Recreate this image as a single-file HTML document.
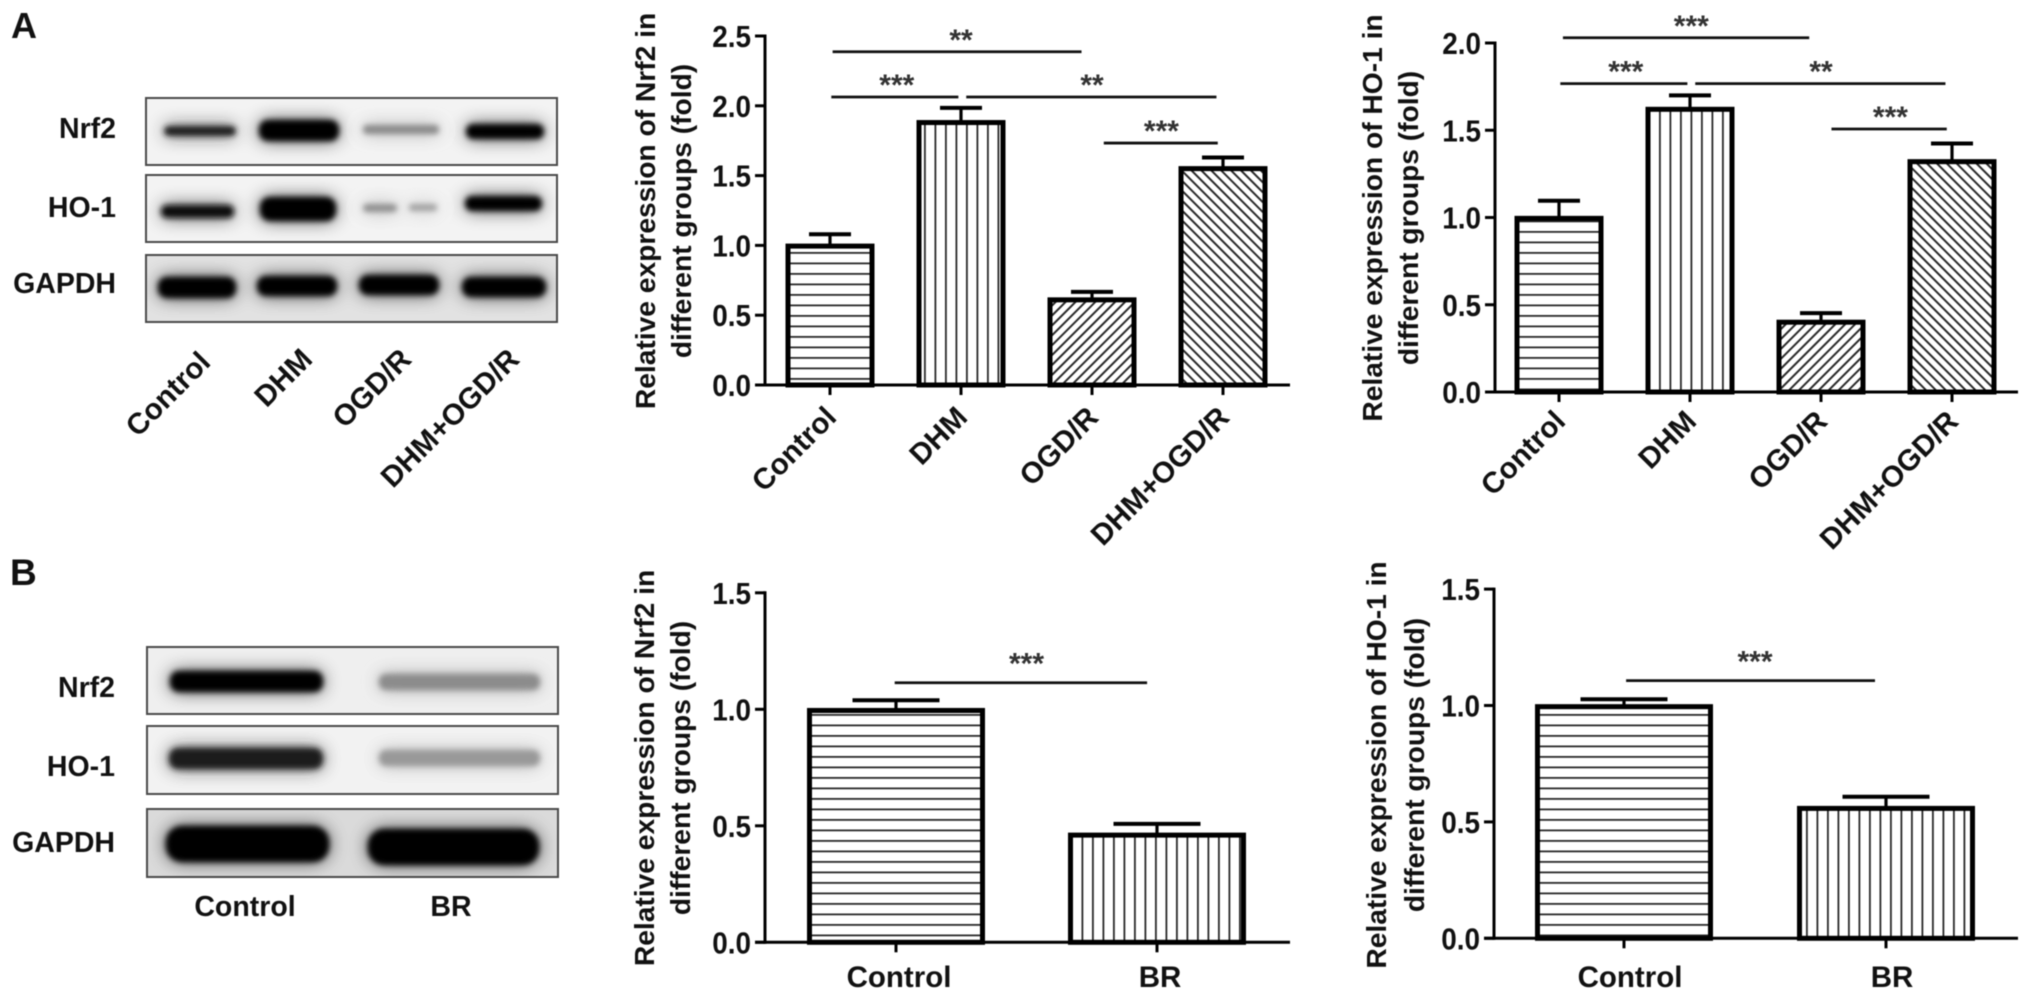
<!DOCTYPE html>
<html lang="en">
<head>
<meta charset="utf-8">
<title>Relative expression of Nrf2 and HO-1</title>
<style>
html,body{margin:0;padding:0;background:#fff;width:2031px;height:1000px;overflow:hidden}
svg{display:block;font-family:"Liberation Sans",Arial,sans-serif;filter:blur(.6px)}
.b{font-weight:bold;fill:#111}
</style>
</head>
<body>
<svg id="figure" xmlns="http://www.w3.org/2000/svg" width="2031" height="1000" viewBox="0 0 2031 1000">
<defs>
<filter id="band" x="-30%" y="-300%" width="160%" height="700%">
<feGaussianBlur in="SourceGraphic" stdDeviation="3" result="core"/>
<feGaussianBlur in="SourceGraphic" stdDeviation="9" result="wide"/>
<feComponentTransfer in="wide" result="halo"><feFuncA type="linear" slope="0.7"/></feComponentTransfer>
<feMerge><feMergeNode in="halo"/><feMergeNode in="core"/></feMerge>
</filter>
<clipPath id="a1"><rect x="146" y="98" width="411" height="67"/></clipPath>
<clipPath id="a2"><rect x="146" y="175" width="411" height="67"/></clipPath>
<clipPath id="a3"><rect x="146" y="255" width="411" height="67"/></clipPath>
<clipPath id="b1"><rect x="147" y="647" width="411" height="67"/></clipPath>
<clipPath id="b2"><rect x="147" y="726" width="411" height="68"/></clipPath>
<clipPath id="b3"><rect x="147" y="809" width="411" height="68"/></clipPath>
<pattern id="hatch-h" patternUnits="userSpaceOnUse" width="10.5" height="10.5"><rect x="0" y="0" width="10.5" height="1.8" fill="#2a2a2a"/></pattern>
<pattern id="hatch-v" patternUnits="userSpaceOnUse" width="10.5" height="10.5"><rect x="0" y="0" width="1.8" height="10.5" fill="#2a2a2a"/></pattern>
<pattern id="hatch-f" patternUnits="userSpaceOnUse" width="7" height="7" patternTransform="rotate(45)"><rect x="0" y="0" width="2" height="7" fill="#2a2a2a"/></pattern>
<pattern id="hatch-b" patternUnits="userSpaceOnUse" width="7" height="7" patternTransform="rotate(-45)"><rect x="0" y="0" width="2" height="7" fill="#2a2a2a"/></pattern>
</defs>

<text class="b" x="11" y="38" font-size="36">A</text>
<text class="b" x="10" y="585" font-size="37">B</text>

<g>
  <g>
    <rect x="146" y="98" width="411" height="67" fill="#f3f3f3"/>
    <g clip-path="url(#a1)" filter="url(#band)">
      <rect x="164" y="126" width="72" height="10" rx="5" fill="#1c1c1c"/>
      <rect x="259" y="120" width="80" height="21" rx="9" fill="#000"/>
      <rect x="363" y="125" width="76" height="9" rx="4" fill="#8a8a8a"/>
      <rect x="466" y="124" width="78" height="15" rx="7" fill="#000"/>
    </g>
    <rect x="146" y="98" width="411" height="67" fill="none" stroke="#4a4a4a" stroke-width="2"/>
  </g>
  <g>
    <rect x="146" y="175" width="411" height="67" fill="#f3f3f3"/>
    <g clip-path="url(#a2)" filter="url(#band)">
      <rect x="161" y="205" width="73" height="13" rx="6" fill="#0c0c0c"/>
      <rect x="260" y="197" width="76" height="24" rx="10" fill="#000"/>
      <rect x="363" y="204" width="34" height="8" rx="4" fill="#8f8f8f"/>
      <rect x="409" y="204" width="28" height="7" rx="3" fill="#a0a0a0"/>
      <rect x="465" y="196" width="77" height="15" rx="7" fill="#000"/>
    </g>
    <rect x="146" y="175" width="411" height="67" fill="none" stroke="#4a4a4a" stroke-width="2"/>
  </g>
  <g>
    <rect x="146" y="255" width="411" height="67" fill="#e2e2e2"/>
    <g clip-path="url(#a3)" filter="url(#band)">
      <rect x="158" y="277" width="78" height="21" rx="9" fill="#000"/>
      <rect x="257" y="276" width="80" height="20" rx="9" fill="#000"/>
      <rect x="359" y="275" width="80" height="20" rx="9" fill="#000"/>
      <rect x="462" y="277" width="84" height="20" rx="9" fill="#000"/>
    </g>
    <rect x="146" y="255" width="411" height="67" fill="none" stroke="#4a4a4a" stroke-width="2"/>
  </g>
  <text class="b" x="116" y="138" font-size="28.5" text-anchor="end">Nrf2</text>
  <text class="b" x="116" y="217" font-size="28.5" text-anchor="end">HO-1</text>
  <text class="b" x="116" y="293" font-size="28.5" text-anchor="end">GAPDH</text>
  <text class="b" font-size="29.5" text-anchor="end" transform="translate(212 364) rotate(-45)">Control</text>
  <text class="b" font-size="29.5" text-anchor="end" transform="translate(314 361) rotate(-45)">DHM</text>
  <text class="b" font-size="29.5" text-anchor="end" transform="translate(413 361) rotate(-45)">OGD/R</text>
  <text class="b" font-size="29.5" text-anchor="end" transform="translate(521 361) rotate(-45)">DHM+OGD/R</text>
</g>

<g>
  <g>
    <rect x="147" y="647" width="411" height="67" fill="#efefef"/>
    <g clip-path="url(#b1)" filter="url(#band)">
      <rect x="170" y="671" width="153" height="21" rx="9" fill="#000"/>
      <rect x="379" y="674" width="161" height="16" rx="7" fill="#8c8c8c"/>
    </g>
    <rect x="147" y="647" width="411" height="67" fill="none" stroke="#4a4a4a" stroke-width="2"/>
  </g>
  <g>
    <rect x="147" y="726" width="411" height="68" fill="#f2f2f2"/>
    <g clip-path="url(#b2)" filter="url(#band)">
      <rect x="169" y="748" width="154" height="21" rx="9" fill="#1a1a1a"/>
      <rect x="379" y="750" width="161" height="16" rx="7" fill="#999"/>
    </g>
    <rect x="147" y="726" width="411" height="68" fill="none" stroke="#4a4a4a" stroke-width="2"/>
  </g>
  <g>
    <rect x="147" y="809" width="411" height="68" fill="#dadada"/>
    <g clip-path="url(#b3)" filter="url(#band)">
      <rect x="166" y="826" width="163" height="36" rx="16" fill="#000"/>
      <rect x="368" y="829" width="171" height="36" rx="16" fill="#000"/>
    </g>
    <rect x="147" y="809" width="411" height="68" fill="none" stroke="#4a4a4a" stroke-width="2"/>
  </g>
  <text class="b" x="115" y="697" font-size="28.5" text-anchor="end">Nrf2</text>
  <text class="b" x="115" y="776" font-size="28.5" text-anchor="end">HO-1</text>
  <text class="b" x="115" y="852" font-size="28.5" text-anchor="end">GAPDH</text>
  <text class="b" x="245" y="916" font-size="28.5" text-anchor="middle">Control</text>
  <text class="b" x="451" y="916" font-size="28.5" text-anchor="middle">BR</text>
</g>
</svg>

<script>
// Shared category and tick label arrays
const categoriesFour = ['Control', 'DHM', 'OGD/R', 'DHM+OGD/R'];
const categoriesTwo = ['Control', 'BR'];
const ticksNrf2A = [0, 0.5, 1, 1.5, 2, 2.5];
const ticksHo1A = [0, 0.5, 1, 1.5, 2];
const ticksB = [0, 0.5, 1, 1.5];

// Panel A, Nrf2
const nrf2AValues = [0.995, 1.88, 0.61, 1.55];
const nrf2AErrorTops = [1.08, 1.985, 0.667, 1.63];
const nrf2ASig = [
  {from: 0.02, to: 1.92, level: 2.387, stars: '**', at: 1.0},
  {from: 0.01, to: 0.98, level: 2.063, stars: '***', at: 0.51},
  {from: 1.04, to: 2.95, level: 2.063, stars: '**', at: 2.0},
  {from: 2.09, to: 2.96, level: 1.733, stars: '***', at: 2.53}
];

// Panel A, HO-1
const ho1AValues = [0.995, 1.62, 0.4, 1.32];
const ho1AErrorTops = [1.096, 1.70, 0.452, 1.424];
const ho1ASig = [
  {from: 0.03, to: 1.91, level: 2.03, stars: '***', at: 1.01},
  {from: 0.01, to: 0.98, level: 1.767, stars: '***', at: 0.51},
  {from: 1.04, to: 2.95, level: 1.767, stars: '**', at: 2.0},
  {from: 2.08, to: 2.96, level: 1.507, stars: '***', at: 2.53}
];

// Panel B, Nrf2
const nrf2BValues = [0.995, 0.46];
const nrf2BErrorTops = [1.039, 0.508];
const nrf2BSig = [{from: -0.005, to: 0.962, level: 1.114, stars: '***', at: 0.5}];

// Panel B, HO-1
const ho1BValues = [0.995, 0.558];
const ho1BErrorTops = [1.027, 0.608];
const ho1BSig = [{from: 0.008, to: 0.958, level: 1.107, stars: '***', at: 0.5}];

const NS = 'http://www.w3.org/2000/svg';
const fig = document.getElementById('figure');

function mk(tag, attrs, parent) {
  const el = document.createElementNS(NS, tag);
  for (const k in attrs) el.setAttribute(k, attrs[k]);
  parent.appendChild(el);
  return el;
}

function drawChart(c) {
  const g = mk('g', {}, fig);
  
  
  const yPos = v => c.y0 - v * c.unit;
  const xPos = i => c.x0 + i * c.step;
  const patterns = c.categories.length === 4
    ? ['hatch-h', 'hatch-v', 'hatch-f', 'hatch-b']
    : ['hatch-h', 'hatch-v'];

  // Bars and error bars
  c.values.forEach((v, i) => {
    const cx = xPos(i);
    const inner = c.barW - 5;
    const hatch = mk('rect', {x: cx - inner / 2, y: yPos(v), width: inner, height: c.y0 - yPos(v), fill: 'url(#' + patterns[i] + ')'}, g);
    
    
    const bar = mk('rect', {x: cx - inner / 2, y: yPos(v), width: inner, height: c.y0 - yPos(v), fill: 'none', stroke: '#000', 'stroke-width': 5}, g);
    
    
    const stem = mk('line', {x1: cx, x2: cx, y1: yPos(v), y2: yPos(c.errorTops[i]), stroke: '#000', 'stroke-width': 3.2}, g);
    
    
    const cap = mk('line', {x1: cx - c.capW / 2, x2: cx + c.capW / 2, y1: yPos(c.errorTops[i]), y2: yPos(c.errorTops[i]), stroke: '#000', 'stroke-width': 4}, g);
    
    
  });

  // Axes
  const yAxis = mk('line', {x1: c.axisX, x2: c.axisX, y1: yPos(c.ticks[c.ticks.length - 1]) - 1.5, y2: c.y0 + 1.5, stroke: '#000', 'stroke-width': 3}, g);
  
  
  const xAxis = mk('line', {x1: c.axisX - 10, x2: c.axisEnd, y1: c.y0, y2: c.y0, stroke: '#000', 'stroke-width': 3}, g);
  
  

  c.ticks.forEach(t => {
    const tick = mk('line', {x1: c.axisX - 10, x2: c.axisX, y1: yPos(t), y2: yPos(t), stroke: '#000', 'stroke-width': 3}, g);
    
    
    const lab = mk('text', {'text-anchor': 'end', 'font-size': 31, 'class': 'b', transform: 'translate(' + (c.axisX - 14) + ' ' + (yPos(t) + 11) + ') scale(.9 1)'}, g);
    lab.textContent = t.toFixed(1);
    
    
  });

  c.categories.forEach((name, i) => {
    const tick = mk('line', {x1: xPos(i), x2: xPos(i), y1: c.y0, y2: c.y0 + 10, stroke: '#000', 'stroke-width': 3}, g);
    
    
    const attrs = c.rotated
      ? {'text-anchor': 'end', transform: 'translate(' + (xPos(i) + 8) + ' ' + c.labelY + ') rotate(-45)'}
      : {'text-anchor': 'middle', x: xPos(i) + c.labelShift, y: c.labelY};
    attrs['font-size'] = c.rotated ? 29.5 : 29.5;
    attrs['class'] = 'b';
    const lab = mk('text', attrs, g);
    lab.textContent = name;
    
    
  });

  // Y axis title
  const t1 = mk('text', {'text-anchor': 'middle', 'font-size': 28.2, 'class': 'b', transform: 'translate(' + c.title1X + ' ' + c.titleY + ') rotate(-90)'}, g);
  t1.textContent = c.title1;
  
  
  const t2 = mk('text', {'text-anchor': 'middle', 'font-size': 28.2, 'class': 'b', transform: 'translate(' + c.title2X + ' ' + c.titleY + ') rotate(-90)'}, g);
  t2.textContent = c.title2;
  
  

  // Significance brackets
  c.sig.forEach(s => {
    const line = mk('line', {x1: xPos(s.from), x2: xPos(s.to), y1: yPos(s.level), y2: yPos(s.level), stroke: '#111', 'stroke-width': 2.8}, g);
    
    
    const star = mk('text', {x: xPos(s.at), y: yPos(s.level) - c.starGap + 15, 'text-anchor': 'middle', 'font-size': 30, 'font-weight': 'bold', fill: '#333'}, g);
    star.textContent = s.stars;
    
    
  });
}

drawChart({name: 'chart-a-nrf2', categories: categoriesFour, values: nrf2AValues, errorTops: nrf2AErrorTops, ticks: ticksNrf2A, sig: nrf2ASig,
  x0: 830, step: 131, y0: 385, unit: 139.6, axisX: 765, axisEnd: 1290, barW: 89, capW: 42, rotated: true, labelY: 419, starGap: 17,
  title1: 'Relative expression of Nrf2 in', title2: 'different groups (fold)', title1X: 655, title2X: 691, titleY: 211});

drawChart({name: 'chart-a-ho1', categories: categoriesFour, values: ho1AValues, errorTops: ho1AErrorTops, ticks: ticksHo1A, sig: ho1ASig,
  x0: 1559, step: 131, y0: 392, unit: 174.5, axisX: 1495, axisEnd: 2018, barW: 89, capW: 42, rotated: true, labelY: 423, starGap: 17,
  title1: 'Relative expression of HO-1 in', title2: 'different groups (fold)', title1X: 1382, title2X: 1418, titleY: 218});

drawChart({name: 'chart-b-nrf2', categories: categoriesTwo, values: nrf2BValues, errorTops: nrf2BErrorTops, ticks: ticksB, sig: nrf2BSig,
  x0: 896, step: 261, y0: 942.3, unit: 233, axisX: 765, axisEnd: 1290, barW: 178, capW: 87, rotated: false, labelY: 987, labelShift: 3, starGap: 24,
  title1: 'Relative expression of Nrf2 in', title2: 'different groups (fold)', title1X: 654, title2X: 690, titleY: 768});

drawChart({name: 'chart-b-ho1', categories: categoriesTwo, values: ho1BValues, errorTops: ho1BErrorTops, ticks: ticksB, sig: ho1BSig,
  x0: 1624, step: 262, y0: 938.3, unit: 232.8, axisX: 1494, axisEnd: 2018, barW: 178, capW: 87, rotated: false, labelY: 987, labelShift: 6, starGap: 24,
  title1: 'Relative expression of HO-1 in', title2: 'different groups (fold)', title1X: 1386, title2X: 1424, titleY: 765});
</script>
</body>
</html>
